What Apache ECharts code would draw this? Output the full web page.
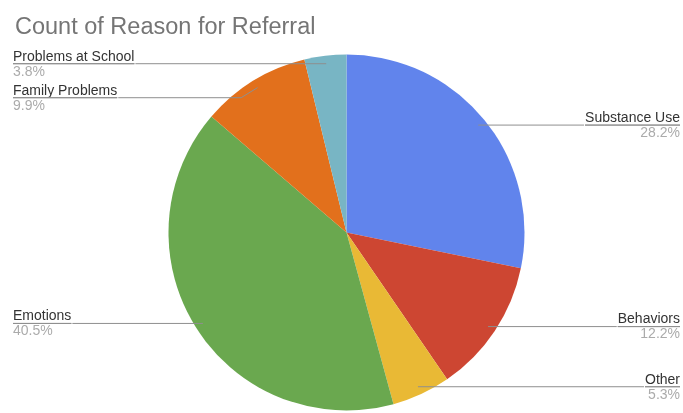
<!DOCTYPE html>
<html>
<head>
<meta charset="utf-8">
<script src="https://cdn.jsdelivr.net/npm/echarts@6/dist/echarts.min.js"></script>
<style>
  html, body { margin: 0; padding: 0; background: #fff; }
  #chart { width: 683px; height: 413px; }
</style>
</head>
<body>
<div id="chart"></div>
<script>
// Share of referrals by reason, in percent, clockwise from 12 o'clock
const reasons = ['Substance Use', 'Behaviors', 'Other', 'Emotions', 'Family Problems', 'Problems at School'];
const shares = [28.2, 12.2, 5.3, 40.5, 9.9, 3.8];
const sliceColors = ['#6184ec', '#cd4632', '#e9b935', '#6aa84f', '#e2701c', '#78b5c4'];

const titleText = 'Count of Reason for Referral';

const pieData = reasons.map((name, i) => ({
  name: name,
  value: shares[i],
  itemStyle: { color: sliceColors[i] }
}));

const labelData = reasons.map((name, i) => ({ name: name, value: shares[i] }));

const chart = echarts.init(document.getElementById('chart'), null, { renderer: 'canvas' });

const fontFamily = 'Liberation Sans, Arial, sans-serif';
const layoutBox = { left: 13, right: 3, top: 0, bottom: 0 };
const centerPos = [333.5, 232.5];

chart.setOption({
  animation: false,
  backgroundColor: '#ffffff',
  title: {
    text: titleText,
    left: 10,
    top: 11,
    textStyle: {
      fontFamily: fontFamily,
      fontSize: 23.5,
      fontWeight: 'normal',
      color: '#757575'
    }
  },
  series: [
    {
      type: 'pie',
      ...layoutBox,
      center: centerPos,
      radius: 178,
      startAngle: 90,
      clockwise: true,
      silent: true,
      z: 2,
      label: { show: false },
      labelLine: { show: false },
      itemStyle: { borderWidth: 0 },
      data: pieData
    },
    {
      // transparent ring carrying the callout labels, so leader lines start inside the slices
      type: 'pie',
      ...layoutBox,
      center: centerPos,
      radius: 170,
      startAngle: 90,
      clockwise: true,
      silent: true,
      z: 5,
      itemStyle: { color: 'rgba(0,0,0,0)', borderWidth: 0 },
      label: {
        show: true,
        position: 'outside',
        alignTo: 'edge',
        edgeDistance: 0,
        distanceToLabelLine: 0,
        fontFamily: fontFamily,
        formatter: p => '{name|' + p.name + '}\n{hr|}\n{per|' + p.value.toFixed(1) + '%}',
        rich: {
          name: { fontSize: 14, color: '#333333', lineHeight: 14, padding: [2, 0, 2, 0], fontFamily: fontFamily },
          hr: { borderColor: '#8f8f8f', borderWidth: 1, width: '100%', height: 0 },
          per: { fontSize: 14, color: '#ababab', lineHeight: 14, padding: [3, 0, 1, 0], fontFamily: fontFamily }
        }
      },
      labelLine: {
        show: true,
        length: 0,
        length2: 10,
        lineStyle: { color: '#8f8f8f', width: 1 }
      },
      data: labelData
    }
  ]
});
</script>
</body>
</html>
